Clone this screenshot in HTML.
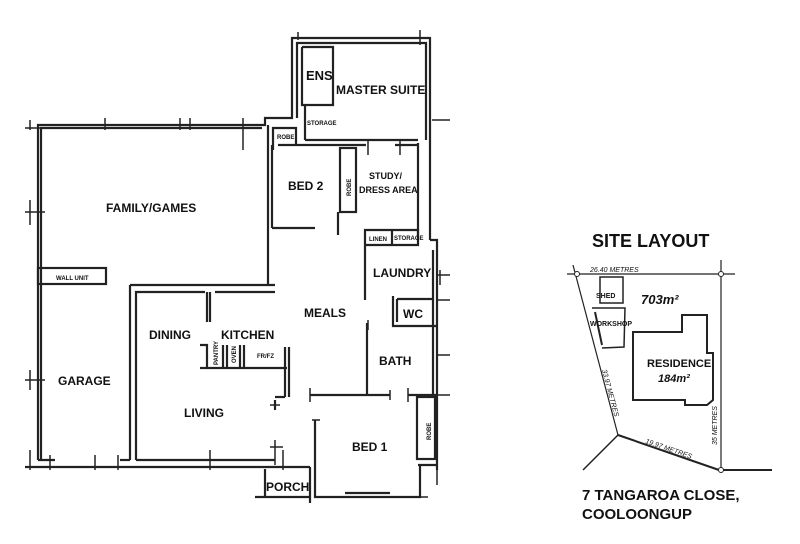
<!DOCTYPE html>
<html><head><meta charset="utf-8"><style>
body{margin:0;background:#fff}
svg{display:block}
text{font-family:"Liberation Sans",Arial,sans-serif;font-weight:bold;fill:#111}
</style></head><body>
<svg width="800" height="544" viewBox="0 0 800 544" xmlns="http://www.w3.org/2000/svg">
<rect width="800" height="544" fill="#fff"/>
<g fill="none" stroke="#222" stroke-width="2.2">
<!-- family top -->
<polyline points="38,460 38,125 265,125 265,118 292,118 292,38 430,38 430,240"/>
<polyline points="41,460 41,128 262,128"/>
<polyline points="297,118 297,43 426,43 426,140"/>
<!-- ensuite -->
<polyline points="302,47 333,47 333,105 302,105 302,47"/>
<line x1="305" y1="140" x2="418" y2="140"/>
<line x1="305" y1="105" x2="305" y2="140"/>
<!-- robe small -->
<polyline points="273,150 273,128 296,128 296,145"/>
<!-- bed2 -->
<line x1="268" y1="125" x2="268" y2="285"/>
<line x1="272" y1="145" x2="272" y2="228"/>
<line x1="278" y1="145" x2="366" y2="145"/>
<line x1="272" y1="228" x2="315" y2="228"/>
<rect x="340" y="148" width="16" height="64"/>
<line x1="338" y1="212" x2="338" y2="235"/>
<line x1="418" y1="143" x2="418" y2="235"/>
<line x1="395" y1="145" x2="418" y2="145"/>
<!-- linen/storage -->
<polyline points="365,300 365,230 418,230 418,245 365,245"/>
<line x1="392" y1="230" x2="392" y2="245"/>
<polyline points="430,240 437,240 437,470"/>
<line x1="433" y1="250" x2="433" y2="395"/>
<!-- wall unit -->
<rect x="38" y="268" width="68" height="16"/>
<!-- garage -->
<line x1="25" y1="467" x2="310" y2="467"/>
<line x1="38" y1="460" x2="55" y2="460"/>
<line x1="130" y1="285" x2="130" y2="460"/>
<line x1="120" y1="460" x2="130" y2="460"/>
<!-- dining/living -->
<polyline points="136,460 136,292 205,292"/>
<line x1="130" y1="285" x2="275" y2="285"/>
<line x1="215" y1="292" x2="275" y2="292"/>
<line x1="207" y1="292" x2="207" y2="322"/>
<line x1="210" y1="292" x2="210" y2="322"/>
<line x1="136" y1="460" x2="275" y2="460"/>
<!-- kitchen cabinets -->
<polyline points="200,345 207,345 207,368 287,368"/>
<line x1="200" y1="368" x2="207" y2="368"/>
<line x1="223" y1="345" x2="223" y2="368"/>
<line x1="227" y1="345" x2="227" y2="368"/>
<line x1="240" y1="345" x2="240" y2="368"/>
<line x1="244" y1="345" x2="244" y2="368"/>
<line x1="285" y1="347" x2="285" y2="397"/>
<line x1="289" y1="347" x2="289" y2="397"/>
<polyline points="275,397 285,397"/>
<line x1="275" y1="400" x2="275" y2="410"/>
<!-- meals/bath -->
<line x1="367" y1="323" x2="367" y2="395"/>
<line x1="310" y1="395" x2="390" y2="395"/>
<line x1="408" y1="395" x2="437" y2="395"/>
<polyline points="393,296 393,326 436,326"/>
<line x1="397" y1="299" x2="433" y2="299"/>
<line x1="397" y1="299" x2="397" y2="322"/>
<!-- bed1 -->
<polyline points="315,420 315,497 420,497 420,465"/>
<rect x="417" y="397" width="18" height="62"/>
<line x1="418" y1="465" x2="437" y2="465"/>
<!-- porch -->
<line x1="265" y1="469" x2="265" y2="497"/>
<line x1="310" y1="467" x2="310" y2="503"/>
<line x1="255" y1="497" x2="310" y2="497"/>
<line x1="345" y1="493" x2="390" y2="493"/>
</g>
<!-- tick marks -->
<g stroke="#222" stroke-width="1.5">
<line x1="30" y1="120" x2="30" y2="130"/><line x1="25" y1="128" x2="45" y2="128"/>
<line x1="105" y1="118" x2="105" y2="130"/><line x1="180" y1="118" x2="180" y2="130"/>
<line x1="190" y1="118" x2="190" y2="130"/>
<line x1="243" y1="118" x2="243" y2="150"/>
<line x1="30" y1="200" x2="30" y2="225"/><line x1="25" y1="212" x2="45" y2="212"/>
<line x1="30" y1="370" x2="30" y2="390"/><line x1="25" y1="380" x2="45" y2="380"/>
<line x1="30" y1="450" x2="30" y2="470"/><line x1="50" y1="455" x2="50" y2="470"/>
<line x1="95" y1="455" x2="95" y2="470"/><line x1="118" y1="455" x2="118" y2="470"/>
<line x1="210" y1="450" x2="210" y2="470"/><line x1="283" y1="450" x2="283" y2="470"/>
<line x1="298" y1="40" x2="298" y2="32"/><line x1="420" y1="30" x2="420" y2="45"/>
<line x1="432" y1="120" x2="450" y2="120"/>
<line x1="400" y1="140" x2="400" y2="155"/><line x1="368" y1="140" x2="368" y2="155"/>
<line x1="440" y1="270" x2="440" y2="285"/><line x1="437" y1="275" x2="450" y2="275"/>
<line x1="437" y1="300" x2="450" y2="300"/><line x1="437" y1="355" x2="450" y2="355"/>
<line x1="437" y1="395" x2="450" y2="395"/>
<line x1="368" y1="320" x2="368" y2="330"/><line x1="390" y1="390" x2="390" y2="400"/>
<line x1="310" y1="388" x2="310" y2="402"/><line x1="408" y1="388" x2="408" y2="402"/>
<line x1="312" y1="420" x2="320" y2="420"/><line x1="270" y1="405" x2="280" y2="405"/>
<line x1="275" y1="440" x2="275" y2="465"/><line x1="270" y1="447" x2="283" y2="447"/>
<line x1="437" y1="470" x2="437" y2="485"/><line x1="415" y1="497" x2="428" y2="497"/>
</g>
<g font-size="12">
<text x="106" y="212">FAMILY/GAMES</text>
<text x="288" y="190">BED 2</text>
<text x="336" y="94">MASTER SUITE</text>
<text x="306" y="80" font-size="13">ENS</text>
<text x="373" y="277">LAUNDRY</text>
<text x="304" y="317">MEALS</text>
<text x="403" y="318">WC</text>
<text x="149" y="339">DINING</text>
<text x="221" y="339">KITCHEN</text>
<text x="379" y="365">BATH</text>
<text x="58" y="385">GARAGE</text>
<text x="184" y="417">LIVING</text>
<text x="352" y="451">BED 1</text>
<text x="266" y="491">PORCH</text>
</g>
<g font-size="9">
<text x="369" y="179">STUDY/</text>
<text x="359" y="193">DRESS AREA</text>
</g>
<g font-size="6">
<text x="56" y="280">WALL UNIT</text>
<text x="307" y="125">STORAGE</text>
<text x="277" y="139">ROBE</text>
<text x="369" y="241">LINEN</text>
<text x="394" y="240">STORAGE</text>
<text x="257" y="358">FR/FZ</text>
<text transform="translate(351,196) rotate(-90)">ROBE</text>
<text transform="translate(431,440) rotate(-90)">ROBE</text>
<text transform="translate(218,365) rotate(-90)">PANTRY</text>
<text transform="translate(236,363) rotate(-90)">OVEN</text>
</g>
<!-- site layout -->
<text x="592" y="247" font-size="18">SITE LAYOUT</text>
<g fill="none" stroke="#222">
<line x1="567" y1="274" x2="735" y2="274" stroke-width="1.2"/>
<line x1="573" y1="265" x2="618" y2="435" stroke-width="1.2"/>
<line x1="721" y1="260" x2="721" y2="470" stroke-width="1.2"/>
<line x1="618" y1="435" x2="719" y2="470" stroke-width="2"/>
<line x1="719" y1="470" x2="772" y2="470" stroke-width="2"/>
<line x1="618" y1="435" x2="583" y2="470" stroke-width="1.5"/>
<circle cx="577" cy="274" r="2.5" fill="#fff" stroke-width="1"/>
<circle cx="721" cy="274" r="2.5" fill="#fff" stroke-width="1"/>
<circle cx="721" cy="470" r="2.5" fill="#fff" stroke-width="1"/>
<rect x="600" y="277" width="23" height="26" stroke-width="1.5"/>
<polyline points="592,308 625,308 624,347 602,348" stroke-width="1.5"/>
<line x1="595" y1="312" x2="602" y2="345" stroke-width="2"/>
<polygon points="633,332 682,332 682,315 707,315 707,353 713,353 713,400 707,405 685,405 685,400 633,400" stroke-width="2"/>
</g>
<text x="596" y="298" font-size="7">SHED</text>
<text x="590" y="326" font-size="7">WORKSHOP</text>
<text x="641" y="304" font-size="13" font-style="italic">703m²</text>
<text x="647" y="367" font-size="11">RESIDENCE</text>
<text x="658" y="382" font-size="11" font-style="italic">184m²</text>
<g font-size="7" font-weight="normal" font-style="italic">
<text x="590" y="272" style="font-weight:normal">26.40 METRES</text>
<text transform="translate(645,443) rotate(19)" style="font-weight:normal">19.97 METRES</text>
<text transform="translate(602,370) rotate(75)" style="font-weight:normal">33.97 METRES</text>
<text transform="translate(717,445) rotate(-90)" style="font-weight:normal">35 METRES</text>
</g>
<text x="582" y="500" font-size="15">7 TANGAROA CLOSE,</text>
<text x="582" y="519" font-size="15">COOLOONGUP</text>
</svg>
</body></html>
